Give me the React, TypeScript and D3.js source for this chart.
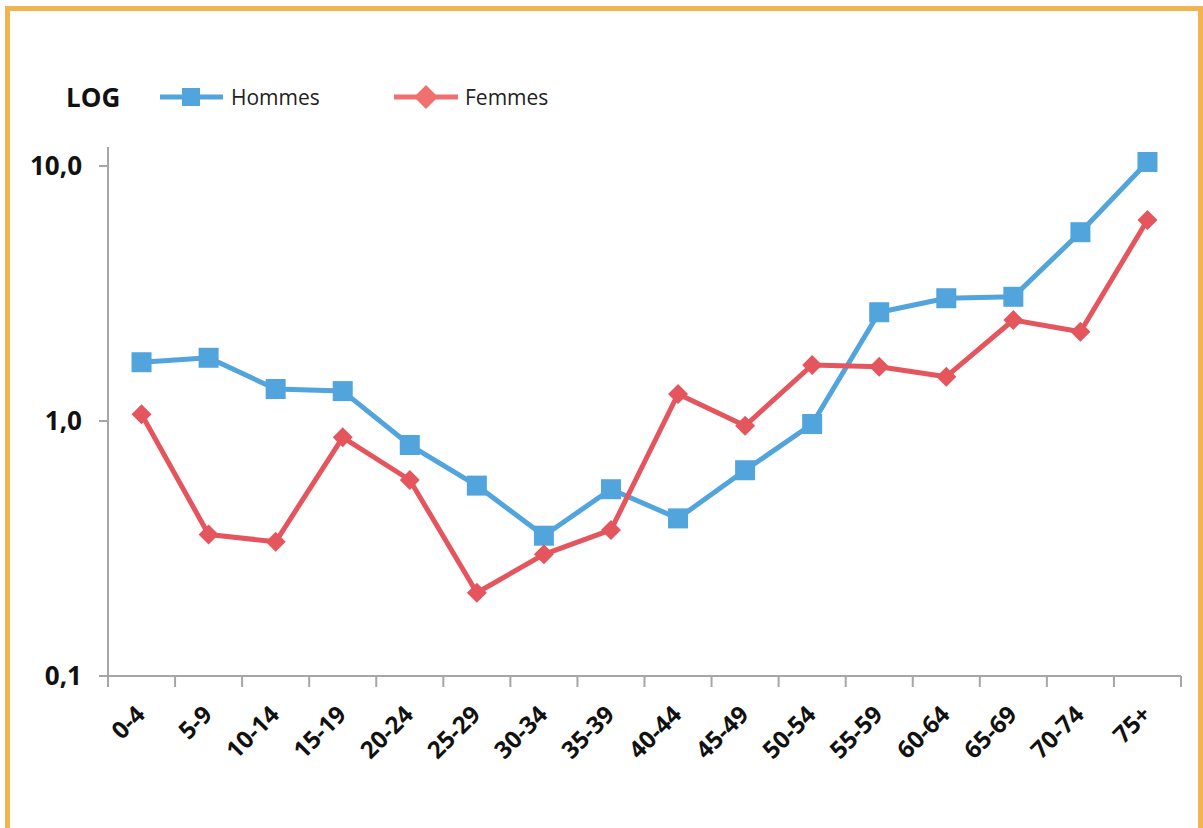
import React from "react";
import * as d3 from "d3";

const categories = ["0-4","5-9","10-14","15-19","20-24","25-29","30-34","35-39","40-44","45-49","50-54","55-59","60-64","65-69","70-74","75+"];
const hommes = [1.70,1.77,1.335,1.31,0.805,0.558,0.355,0.54,0.415,0.641,0.973,2.67,3.03,3.07,5.5,10.37];
const femmes = [1.062,0.359,0.336,0.863,0.587,0.212,0.30,0.374,1.276,0.958,1.658,1.633,1.492,2.49,2.24,6.14];
const yTicks = [0.1, 1, 10];
const yTickLabels = ["0,1", "1,0", "10,0"];
const seriesNames = ["Hommes", "Femmes"];

const W = 1203, H = 828;
const BLUE = "#52A4DD";
const RED = "#E4555D";
const AXIS = "#A6A6A6";
const FONT = "'Open Sans', 'Noto Sans', sans-serif";

export default function App() {
  const left = 108, right = 1181, top = 166, bottom = 676;
  const x = d3.scaleBand<string>().domain(categories).range([left, right]);
  const y = d3.scaleLog().domain([0.1, 10]).range([bottom, top]);
  const cx = (c: string) => (x(c) as number) + x.bandwidth() / 2;
  const line = d3.line<number>().x((_, i) => cx(categories[i])).y((d) => y(d));
  const diamond = (s: number) => `M0,${-s}L${s},0L0,${s}L${-s},0Z`;
  const bounds = categories.map((c) => x(c) as number).concat([right]);

  return (
    <svg width={W} height={H} style={{ position: "absolute", left: 0, top: 0, background: "#fff" }}>
      <rect x={7.5} y={8.5} width={1193} height={900} fill="#fff" stroke="#F2B451" strokeWidth={5} />

      {/* legend */}
      <text x={66} y={107} fontFamily={FONT} fontWeight={700} fontSize={26} fill="#111">LOG</text>
      <line x1={160} x2={223} y1={97} y2={97} stroke={BLUE} strokeWidth={5} />
      <rect x={182} y={88} width={18} height={18} fill={BLUE} />
      <text x={231} y={105} fontFamily={FONT} fontSize={21} fill="#222">{seriesNames[0]}</text>
      <line x1={394} x2={458} y1={97} y2={97} stroke="#F07070" strokeWidth={5} />
      <path d={diamond(12)} transform="translate(426,97)" fill="#F07070" />
      <text x={465} y={105} fontFamily={FONT} fontSize={21} fill="#222">{seriesNames[1]}</text>

      {/* axes */}
      <line x1={left} x2={left} y1={top - 19} y2={bottom} stroke={AXIS} strokeWidth={2} />
      <line x1={left - 9} x2={right} y1={bottom} y2={bottom} stroke={AXIS} strokeWidth={2} />
      {yTicks.map((t, i) => (
        <g key={t}>
          <line x1={left - 9} x2={left} y1={y(t)} y2={y(t)} stroke={AXIS} strokeWidth={2} />
          <text x={82} y={y(t)} dy="0.36em" textAnchor="end" fontFamily={FONT} fontWeight={700} fontSize={26} fill="#111">
            {yTickLabels[i]}
          </text>
        </g>
      ))}
      {bounds.map((b, i) => (
        <line key={i} x1={b} x2={b} y1={bottom} y2={bottom + 11} stroke={AXIS} strokeWidth={2} />
      ))}
      {categories.map((c) => (
        <text key={c} transform={`translate(${cx(c) + 5},${bottom + 40}) rotate(-45)`} textAnchor="end"
          fontFamily={FONT} fontWeight={700} fontSize={24} fill="#111">{c}</text>
      ))}

      {/* series */}
      <path d={line(hommes) as string} fill="none" stroke={BLUE} strokeWidth={5} strokeLinejoin="round" />
      {hommes.map((v, i) => (
        <rect key={i} x={cx(categories[i]) - 10} y={y(v) - 10} width={20} height={20} fill={BLUE} />
      ))}
      <path d={line(femmes) as string} fill="none" stroke={RED} strokeWidth={5} strokeLinejoin="round" />
      {femmes.map((v, i) => (
        <path key={i} d={diamond(10)} transform={`translate(${cx(categories[i])},${y(v)})`} fill={RED} />
      ))}
    </svg>
  );
}
